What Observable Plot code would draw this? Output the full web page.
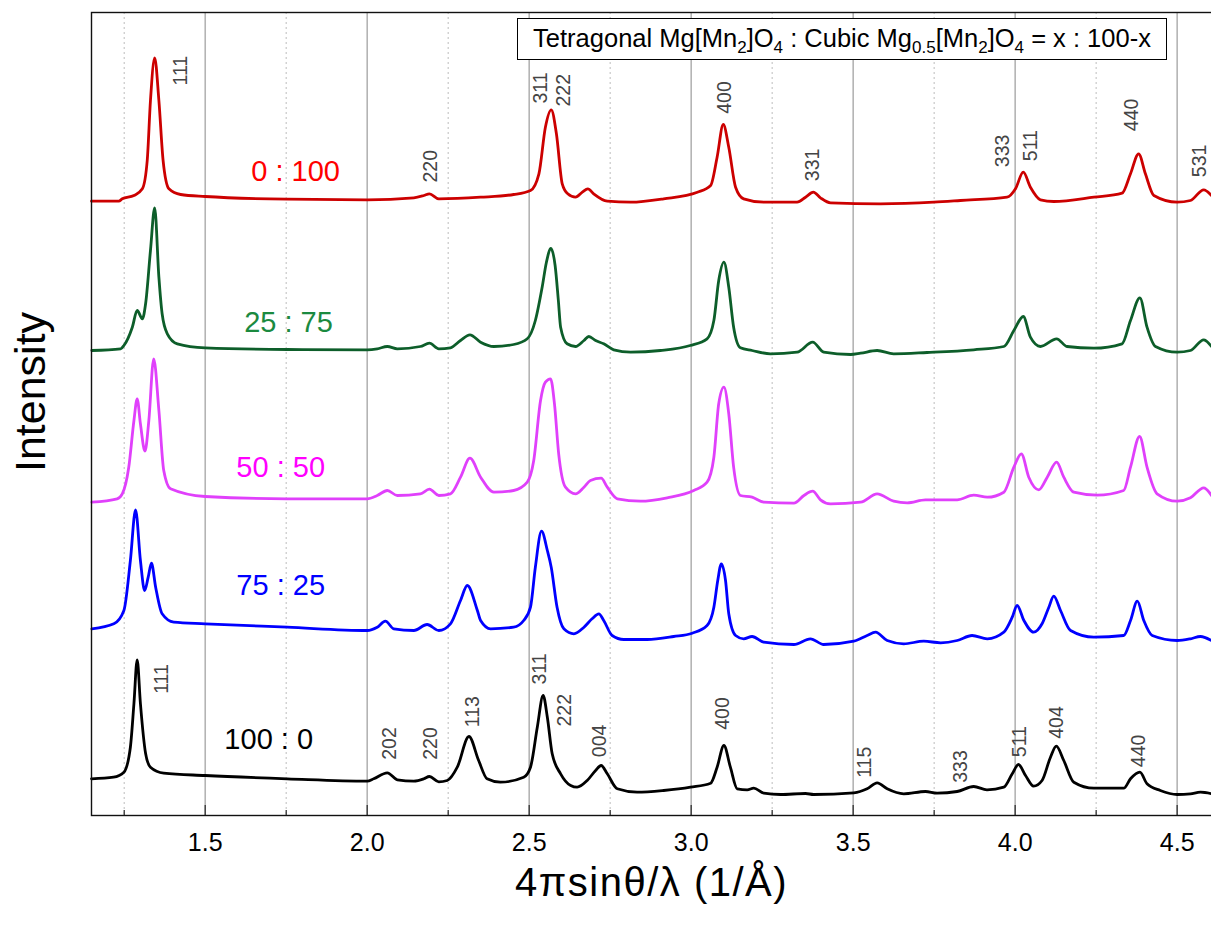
<!DOCTYPE html>
<html>
<head>
<meta charset="utf-8">
<script src="https://cdn.jsdelivr.net/npm/d3@7"></script>
<script src="https://cdn.jsdelivr.net/npm/@observablehq/plot@0.6"></script>
<style>
  html, body { margin: 0; padding: 0; background: #fff; }
  #wrap { position: relative; width: 1211px; height: 928px; font-family: "Liberation Sans", Arial, sans-serif; }
  #legend {
    position: absolute; left: 517px; top: 18px; width: 650px; height: 42px;
    box-sizing: border-box; border: 1.3px solid #000; background: #fff;
    font-size: 25.5px; line-height: 38px; color: #000; white-space: nowrap; text-align: center;
  }
  #legend sub { font-size: 17px; vertical-align: -6px; line-height: 0; }
</style>
</head>
<body>
<div id="wrap"></div>
<script>
// ---- Data (q in 1/Å, intensity in arbitrary units, stacked as drawn) ----
const seriesNames = ["0 : 100", "25 : 75", "50 : 50", "75 : 25", "100 : 0"];

const s0_100 = [[1.149,614.3],[1.233,614.3],[1.244,616.7],[1.280,620],[1.306,626.7],[1.321,655],[1.331,715],[1.344,757.7],[1.357,715],[1.370,655],[1.388,626.7],[1.424,621],[1.5,619],[1.753,616.3],[2.0,615.7],[2.144,617.7],[2.175,620],[2.192,621.7],[2.221,616.7],[2.350,618.3],[2.452,621],[2.504,625],[2.530,641.7],[2.550,688.3],[2.568,705.7],[2.584,681.7],[2.602,631.7],[2.619,621.7],[2.643,618.3],[2.664,623.3],[2.681,626.7],[2.699,621.7],[2.741,614.3],[2.813,613.3],[2.915,616.7],[3.019,623.3],[3.060,630],[3.080,658.3],[3.099,691],[3.116,668.3],[3.137,628.3],[3.162,616.7],[3.224,613.3],[3.327,613.3],[3.353,618.3],[3.377,623.3],[3.399,617.7],[3.430,612.7],[3.584,611.7],[3.749,613.3],[3.831,615],[3.975,618.3],[4.001,626.7],[4.025,643.3],[4.047,628.3],[4.078,615.7],[4.119,614],[4.243,618.3],[4.330,622.3],[4.356,641.7],[4.381,661.7],[4.402,641.7],[4.428,620],[4.5,613.3],[4.541,615],[4.582,625.7],[4.606,620]];

const s25_75 = [[1.150,465],[1.239,466.7],[1.249,470],[1.275,488.3],[1.290,505],[1.306,496.7],[1.316,511.7],[1.331,565],[1.344,607.7],[1.357,538.3],[1.367,501.7],[1.383,481.7],[1.414,471.7],[1.5,467.7],[1.753,466],[2.0,465.7],[2.031,466.7],[2.062,469],[2.093,466.7],[2.164,469],[2.192,472.3],[2.221,466.7],[2.257,467.7],[2.288,475],[2.317,480.7],[2.350,473.3],[2.391,469],[2.452,471],[2.494,476.7],[2.519,495],[2.540,528.3],[2.553,553],[2.567,567],[2.580,550],[2.590,515],[2.597,488.3],[2.617,471.7],[2.643,469],[2.669,475],[2.684,479],[2.705,475],[2.730,471.7],[2.761,465.7],[2.813,463.3],[2.905,465],[2.997,470],[3.049,476.7],[3.070,495],[3.085,535],[3.101,553.3],[3.116,528.3],[3.131,488.3],[3.152,467.7],[3.188,465],[3.245,461.7],[3.327,463.3],[3.375,473.3],[3.409,463.3],[3.492,461],[3.523,462.3],[3.574,465],[3.625,461.7],[3.728,463],[3.872,465.7],[3.965,469],[3.996,485],[4.025,499],[4.047,478.3],[4.078,469],[4.128,476.7],[4.160,469],[4.243,467.3],[4.330,471.7],[4.356,495],[4.385,517.7],[4.407,488.3],[4.433,469],[4.5,463.3],[4.541,465],[4.582,475.7],[4.606,469]];

const s50_50 = [[1.150,313.3],[1.228,316.7],[1.244,321.7],[1.264,348.3],[1.280,395],[1.290,416.7],[1.300,391.7],[1.314,364.3],[1.326,395],[1.341,456.7],[1.357,405],[1.372,345],[1.393,326.7],[1.5,319],[1.753,316.7],[2.0,316.7],[2.031,320],[2.062,325],[2.093,320],[2.164,321.7],[2.192,326.3],[2.221,320],[2.257,321.7],[2.288,338.3],[2.317,357.3],[2.350,338.3],[2.391,323.3],[2.452,325],[2.494,333.3],[2.514,355],[2.535,415],[2.550,433.3],[2.566,436.7],[2.578,411.7],[2.591,361.7],[2.612,328.3],[2.643,321.7],[2.669,328.3],[2.689,335],[2.722,337.3],[2.741,328.3],[2.772,316.7],[2.843,314.3],[2.926,317.7],[3.008,325],[3.049,333.3],[3.070,358.3],[3.085,411.7],[3.101,428.3],[3.116,401.7],[3.131,348.3],[3.152,320],[3.188,318.3],[3.224,313.3],[3.317,312.3],[3.348,320],[3.375,324.3],[3.399,315.7],[3.430,311.7],[3.523,313.3],[3.574,321.7],[3.625,314.3],[3.667,312.7],[3.723,315.7],[3.821,315.7],[3.872,320.3],[3.914,318.3],[3.965,323.3],[3.996,348.3],[4.019,361.7],[4.042,338.3],[4.073,325.7],[4.099,338.3],[4.128,353.3],[4.150,338.3],[4.181,323.3],[4.253,320.3],[4.335,325],[4.356,348.3],[4.384,379],[4.407,348.3],[4.438,321.7],[4.5,314.3],[4.541,317.7],[4.582,327.7],[4.606,320]];

const s75_25 = [[1.150,186.7],[1.218,191.7],[1.249,205],[1.269,255],[1.285,305.7],[1.300,255],[1.313,225],[1.324,238.3],[1.334,252.3],[1.347,228.3],[1.367,201.7],[1.403,193.3],[1.5,191.7],[1.753,188.3],[2.0,185],[2.031,188.3],[2.056,194.3],[2.082,186.7],[2.144,185],[2.185,191],[2.221,185],[2.257,191.7],[2.288,215],[2.309,230],[2.340,205],[2.350,195],[2.381,186.7],[2.452,188.3],[2.483,195],[2.504,208.3],[2.519,248.3],[2.538,284.3],[2.556,265],[2.568,248.3],[2.586,208.3],[2.607,186.7],[2.638,181.7],[2.669,188.3],[2.694,196.7],[2.715,201.7],[2.730,195],[2.756,180],[2.792,176],[2.864,176],[2.946,179],[3.003,182.3],[3.049,190],[3.070,208.3],[3.082,235],[3.093,251.7],[3.106,235],[3.116,201.7],[3.137,180],[3.162,176.7],[3.188,179],[3.224,173.3],[3.317,171],[3.368,176.7],[3.409,171],[3.502,174.3],[3.543,180],[3.569,183.3],[3.605,175],[3.656,171.7],[3.718,174.3],[3.770,172.7],[3.821,175],[3.867,180],[3.914,176.7],[3.965,183.3],[3.991,198.3],[4.006,210],[4.027,195],[4.057,183.3],[4.083,191.7],[4.104,208.3],[4.119,219.3],[4.140,205],[4.171,185],[4.243,178.3],[4.335,180],[4.356,195],[4.377,214.3],[4.397,195],[4.423,180],[4.5,175],[4.541,176.7],[4.572,179],[4.606,175]];

const s100_0 = [[1.149,36.7],[1.217,38.3],[1.249,43.3],[1.269,68.3],[1.280,112],[1.290,155.7],[1.300,112],[1.316,62],[1.331,48.3],[1.372,42.3],[1.5,40],[1.753,36.7],[2.0,34.3],[2.020,36.7],[2.062,42.7],[2.093,35.7],[2.144,34.3],[2.175,36.7],[2.192,39],[2.221,33.7],[2.247,35],[2.278,48.3],[2.314,79],[2.344,55],[2.370,36.7],[2.411,33.3],[2.483,38.3],[2.504,48.3],[2.525,88.3],[2.543,120],[2.556,98.3],[2.571,61.7],[2.597,41.7],[2.628,30],[2.648,28.3],[2.679,35],[2.705,45],[2.722,50],[2.741,41.7],[2.772,26.7],[2.833,23.3],[2.915,25],[2.998,28.3],[3.060,32.3],[3.080,48.3],[3.101,70],[3.121,48.3],[3.142,26.7],[3.173,25.7],[3.193,27.3],[3.224,22.3],[3.276,21],[3.353,22],[3.378,21],[3.502,22.7],[3.543,26.7],[3.574,32.7],[3.605,26.7],[3.656,21.7],[3.723,24],[3.759,22.3],[3.821,24],[3.872,29],[3.913,25.7],[3.965,28.3],[3.991,41.7],[4.010,51],[4.032,40],[4.057,29.3],[4.083,35],[4.109,58.3],[4.127,69.3],[4.150,55],[4.181,33.3],[4.243,27.3],[4.335,27.3],[4.356,36.7],[4.385,43.3],[4.407,31.7],[4.448,25],[4.5,21],[4.541,21.7],[4.572,23.3],[4.606,21.7]];

// series label anchors (q, intensity)
const seriesLabelQ = [1.779, 1.757, 1.733, 1.733, 1.696];
const seriesLabelI = [643.5, 492.5, 348, 229.5, 76];

// Miller index annotations: [label, q, intensity]
const cubicPeaks = [["111",1.424,730],["220",2.197,633],["311",2.536,712],["222",2.606,709],["400",3.104,701.7],["331",3.376,634.3],["333",3.962,648.3],["511",4.049,654.3],["440",4.36,684.3],["531",4.569,638.3]];
const tetraPeaks = [["111",1.367,121.7],["202",2.069,55.7],["220",2.197,55.7],["113",2.327,88.3],["311",2.532,131],["222",2.609,89],["004",2.719,58.3],["400",3.098,85.7],["115",3.535,37.7],["333",3.831,32.7],["511",4.013,58.3],["404",4.127,76.7],["440",4.381,48.3]];

const majorTicks = [1.5, 2.0, 2.5, 3.0, 3.5, 4.0, 4.5];
const minorTicks = [1.25, 1.75, 2.25, 2.75, 3.25, 3.75, 4.25];
const xDomain = [1.149, 4.606];
const yDomain = [0, 803];

// ---- styles ----
const curveColors = ["#cc0000", "#0d5e2a", "#e040fb", "#0000ff", "#000000"];
const labelColors = ["#ff0000", "#1b8a3f", "#ff00ff", "#0000ff", "#000000"];
const allSeries = [s0_100, s25_75, s50_50, s75_25, s100_0];
const font = '"Liberation Sans", Arial, sans-serif';

const seriesLabels = seriesNames.map((n, i) => ({name: n, q: seriesLabelQ[i], I: seriesLabelI[i], color: labelColors[i]}));
const peaks = [...cubicPeaks, ...tetraPeaks].map(([t, q, I]) => ({t, q, I}));

const chart = Plot.plot({
  width: 1211,
  height: 928,
  marginLeft: 91,
  marginRight: 0,
  marginTop: 12,
  marginBottom: 113,
  style: {fontFamily: font, background: "#fff"},
  x: {domain: xDomain, label: null},
  y: {domain: yDomain, axis: null, label: null},
  marks: [
    Plot.ruleX(minorTicks, {stroke: "#c8c8c8", strokeWidth: 1.2, strokeDasharray: "2,3"}),
    Plot.ruleX(majorTicks, {stroke: "#b4b4b4", strokeWidth: 1.6}),
    Plot.ruleX(majorTicks, {stroke: "#333", strokeWidth: 1.3, insetTop: 793}),
    Plot.ruleX(minorTicks, {stroke: "#333", strokeWidth: 1.3, insetTop: 798}),
    ...allSeries.map((s, i) => Plot.line(s, {x: d => d[0], y: d => d[1], stroke: curveColors[i], strokeWidth: 2.8, curve: "monotone-x"})),
    Plot.text(peaks, {x: "q", y: "I", text: "t", rotate: -90, textAnchor: "start", lineAnchor: "middle", fontSize: 19.5, fill: "#444"}),
    Plot.text(seriesLabels, {x: "q", y: "I", text: "name", fill: "color", fontSize: 29, lineAnchor: "middle"}),
    Plot.frame({stroke: "#111", strokeWidth: 1.4, insetRight: -3}),
    Plot.axisX({ticks: majorTicks, tickSize: 0, tickPadding: 18, fontSize: 25, tickFormat: d3.format(".1f"), label: null}),
    Plot.text(["4πsinθ/λ (1/Å)"], {frameAnchor: "bottom", lineAnchor: "middle", textAnchor: "middle", dy: 68, fontSize: 40, fill: "#000"}),
    Plot.text(["Intensity"], {frameAnchor: "left", rotate: -90, textAnchor: "middle", lineAnchor: "middle", dx: -60, dy: -22, fontSize: 43, fill: "#000"})
  ]
});

// widen the axis title letter spacing slightly, as in the reference
d3.select(chart).selectAll("text").filter(function() { return this.textContent === "4πsinθ/λ (1/Å)"; }).attr("letter-spacing", "1.5px");

const wrap = document.getElementById("wrap");
wrap.appendChild(chart);
const legend = document.createElement("div");
legend.id = "legend";
legend.innerHTML = '<span>Tetragonal Mg[Mn<sub>2</sub>]O<sub>4</sub> : Cubic Mg<sub>0.5</sub>[Mn<sub>2</sub>]O<sub>4</sub> = x : 100-x</span>';
wrap.appendChild(legend);
</script>
</body>
</html>
